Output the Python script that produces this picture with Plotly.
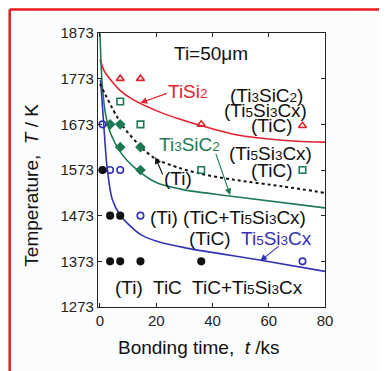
import plotly.graph_objects as go

# ---- data (time in ks, temperature in K) ----
tisi2_t = [7.2, 14.4, 36, 72]
tisi2_T = [1773, 1773, 1673, 1670]

sq_t = [7.2, 14.4, 36, 72]
sq_T = [1723, 1673, 1573, 1573]

dia_t = [3.6, 7.2, 7.2, 14.4, 14.4]
dia_T = [1673, 1673, 1623, 1623, 1573]

oc_t = [0.9, 3.6, 7.2, 14.4, 72]
oc_T = [1673, 1573, 1573, 1473, 1373]

fc_t = [0.9, 3.6, 7.2, 3.6, 7.2, 14.4, 36]
fc_T = [1573, 1473, 1473, 1373, 1373, 1373, 1373]

# boundary curves
red_t = [0, 1.5, 3.7, 7, 11.8, 20, 28, 36, 47, 60, 70, 80]
red_T = [1815, 1790, 1771, 1748, 1727, 1703, 1685, 1670, 1652, 1641, 1636, 1634]

dash_t = [0, 7.8, 15.5, 20.2, 28, 35.5, 47.2, 65, 80]
dash_T = [1762, 1672, 1618, 1596, 1578, 1565, 1552, 1537, 1523]

green_t = [0, 0.8, 2, 3.7, 7.5, 12, 20.2, 29.6, 46, 80]
green_T = [1873, 1760, 1695, 1654, 1610, 1580, 1545, 1530, 1516, 1490]

blue_t = [0.2, 1.3, 2.5, 4.3, 7.2, 14.3, 20.2, 30.8, 56.7, 80]
blue_T = [1771, 1676, 1581, 1510, 1474, 1432, 1417, 1402, 1376, 1351]

y_ticks = [1273, 1373, 1473, 1573, 1673, 1773, 1873]
x_ticks = [0, 20, 40, 60, 80]

RED = "#e2232e"
GREEN = "#1d7a52"
BLUE = "#3232b4"
FONT = "Liberation Sans, Arial, sans-serif"

fig = go.Figure()

def curve(t, T, color, dash="solid", width=1.6):
    fig.add_trace(go.Scatter(x=t, y=T, mode="lines",
                             line=dict(color=color, width=width, dash=dash, shape="spline", smoothing=0.8),
                             hoverinfo="skip", showlegend=False))

curve(red_t, red_T, RED)
curve(green_t, green_T, GREEN)
curve(blue_t, blue_T, BLUE)
curve(dash_t, dash_T, "#111111", dash="dot", width=2)

def pts(t, T, symbol, color, size):
    fig.add_trace(go.Scatter(x=t, y=T, mode="markers",
                             marker=dict(symbol=symbol, size=size, color=color,
                                         line=dict(color=color, width=1.6)),
                             showlegend=False, cliponaxis=False))

pts(tisi2_t, tisi2_T, "triangle-up-open", RED, 7)
pts(sq_t, sq_T, "square-open", GREEN, 6.5)
pts(dia_t, dia_T, "diamond", GREEN, 6.5)
pts(oc_t, oc_T, "circle-open", BLUE, 6.5)
pts(fc_t, fc_T, "circle", "#111111", 6.5)

def s(n):
    return f'<span style="font-size:13.5px">{n}</span>'

TSC = f"Ti{s(3)}SiC{s(2)}"
T53 = f"Ti{s(5)}Si{s(3)}Cx"

labels = [
    ("Ti=50μm", 39.6, 1829, "#111111"),
    (f"({TSC})", 59.1, 1737, "#111111"),
    (f"({T53})", 58.7, 1704, "#111111"),
    ("(TiC)", 61.2, 1670, "#111111"),
    (f"TiSi{s(2)}", 31.4, 1744, RED),
    (TSC, 31.8, 1628, GREEN),
    (f"({T53})", 60.5, 1610, "#111111"),
    ("(TiC)", 61.2, 1573, "#111111"),
    ("(Ti)", 27.9, 1555, "#111111"),
    (f"(Ti) (TiC+{T53})", 45.6, 1470, "#111111"),
    ("(TiC)", 39.2, 1424, "#111111"),
    (T53, 62.6, 1424, BLUE),
    (f"(Ti)  TiC  TiC+{T53}", 38.6, 1315, "#111111"),
]
for txt, x, y, c in labels:
    fig.add_annotation(x=x, y=y, text=txt, showarrow=False,
                       font=dict(family=FONT, size=19, color=c))

arrows = [
    (14.4, 1720, 24.3, 1742, RED),
    (46.3, 1518, 41.0, 1612, GREEN),
    (19.7, 1601, 22.5, 1560, "#111111"),
    (57.0, 1374, 64.1, 1409, BLUE),
]
for x, y, ax, ay, c in arrows:
    fig.add_annotation(x=x, y=y, ax=ax, ay=ay, axref="x", ayref="y", text="",
                       showarrow=True, arrowhead=2, arrowsize=1.2, arrowwidth=1.1,
                       arrowcolor=c)

# axis titles placed as paper annotations
fig.add_annotation(xref="paper", yref="paper", x=-0.297, y=0.445, xanchor="center", yanchor="middle",
                   text="Temperature,  <i>T</i> / K", textangle=-90, showarrow=False,
                   font=dict(family=FONT, size=19, color="#111111"))
fig.add_annotation(xref="paper", yref="paper", x=0.446, y=-0.146, xanchor="center", yanchor="middle",
                   text="Bonding time,  <i>t</i> /ks", showarrow=False,
                   font=dict(family=FONT, size=19, color="#111111"))

# red frame (left and top edges visible)
fig.add_shape(type="line", xref="paper", yref="paper", x0=-0.389, x1=-0.389, y0=-0.3, y1=1.086,
              line=dict(color="#e81c1c", width=2.5), layer="below")
fig.add_shape(type="line", xref="paper", yref="paper", x0=-0.389, x1=1.35, y0=1.086, y1=1.086,
              line=dict(color="#e81c1c", width=2.5), layer="below")

axis_common = dict(showline=True, linecolor="#222222", linewidth=1.3, mirror="ticks",
                   ticks="inside", ticklen=4, tickcolor="#222222", showgrid=False,
                   zeroline=False, automargin=False,
                   tickfont=dict(family=FONT, size=15, color="#222222"))

fig.update_xaxes(range=[-0.7, 80], tickvals=x_ticks, **axis_common)
fig.update_yaxes(range=[1273, 1873], tickvals=y_ticks, **axis_common)

fig.update_layout(width=387, height=371,
                  margin=dict(l=89.5, r=70, t=25, b=72, autoexpand=False),
                  paper_bgcolor="#fbfcfd", plot_bgcolor="#ffffff",
                  showlegend=False)

fig.write_html("out.html")
